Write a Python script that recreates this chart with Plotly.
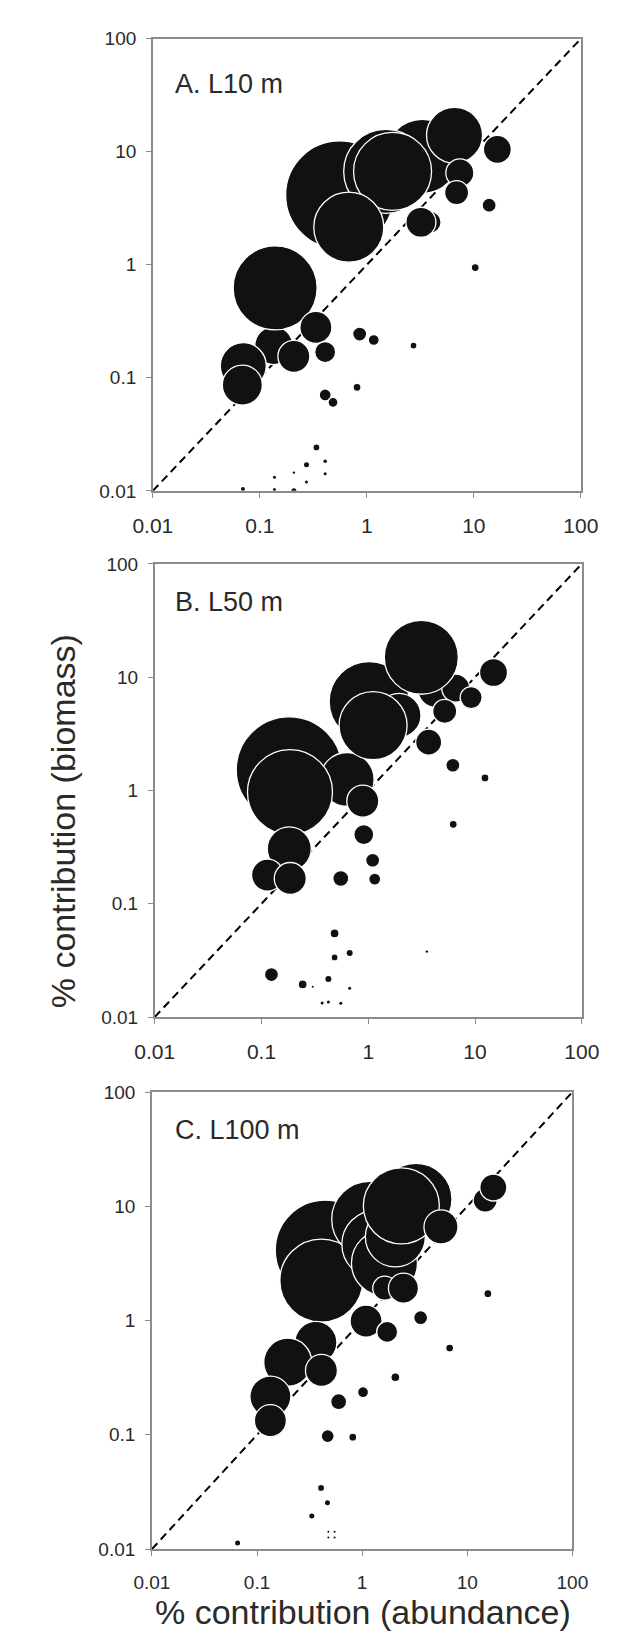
import plotly.graph_objects as go

# ---------------- data ----------------
# Panel A. L10 m  (drawing order back -> front)
a_abund = [0.557, 3.3, 1.50, 1.74, 6.6, 7.4, 6.9, 16.6, 13.9, 10.3, 3.9, 3.2, 0.678,
           0.135, 0.139, 0.334, 0.408, 0.208, 0.070, 0.0686, 0.857, 1.16, 2.73, 0.408,
           0.483, 0.81, 0.338, 0.273, 0.408, 0.408, 0.273, 0.208, 0.208, 0.137, 0.137, 0.0695]
a_biom = [4.15, 9.1, 6.7, 6.7, 14.0, 6.5, 4.35, 10.5, 3.37, 0.945, 2.38, 2.38, 2.15,
          0.193, 0.624, 0.279, 0.169, 0.155, 0.128, 0.0863, 0.244, 0.216, 0.193, 0.0706,
          0.0607, 0.0824, 0.0242, 0.017, 0.0183, 0.0142, 0.012, 0.0145, 0.0100, 0.0132, 0.0103, 0.0104]
a_weight = [54, 37, 42, 39, 28, 14, 12, 14, 7, 4, 11, 15, 35,
            19, 42, 16, 10.5, 16, 23, 20, 7, 5.5, 3.5, 6,
            5, 4, 3.5, 2.5, 1.8, 1.5, 1.5, 1.2, 2.5, 1.5, 1.5, 2]

# Panel B. L50 m
b_abund = [0.182, 0.634, 0.185, 0.889, 0.182, 0.114, 0.186, 1.02, 1.94, 1.11, 4.3, 6.6,
           9.2, 5.2, 3.14, 14.9, 3.68, 6.2, 12.4, 6.25, 0.908, 1.10, 1.15, 0.553, 0.484,
           0.484, 0.67, 3.54, 0.124, 0.243, 0.302, 0.423, 0.67, 0.37, 0.423, 0.553]
b_biom = [1.52, 1.25, 0.966, 0.805, 0.305, 0.179, 0.167, 6.1, 4.6, 3.74, 7.8, 8.0,
          6.6, 5.0, 15.0, 11.0, 2.67, 1.67, 1.29, 0.502, 0.408, 0.242, 0.165, 0.167, 0.0547,
          0.0336, 0.0367, 0.0378, 0.0237, 0.0194, 0.0185, 0.0217, 0.0179, 0.0133, 0.0136, 0.0132]
b_weight = [53, 27, 42.5, 16, 22, 16, 16, 40, 22, 34, 18, 14,
            11, 12, 37, 14, 13, 7, 4, 4, 10, 7, 6, 8, 4.5,
            3.5, 3, 1.2, 7, 4.5, 1, 3, 1.5, 1.5, 1.5, 1.5]

# Panel C. L100 m
c_abund = [0.446, 0.409, 3.25, 1.18, 1.35, 1.63, 2.07, 2.36, 5.62, 1.64, 2.47, 1.09,
           1.73, 0.363, 0.196, 0.41, 0.134, 0.134, 14.8, 17.7, 15.7, 6.8, 3.6, 2.07,
           1.02, 0.598, 0.47, 0.815, 0.407, 0.468, 0.332, 0.0653, 0.477, 0.547, 0.477, 0.547]
c_biom = [4.13, 2.24, 11.5, 7.7, 4.65, 3.19, 5.4, 10.1, 6.6, 1.92, 1.92, 0.99,
          0.796, 0.644, 0.432, 0.366, 0.216, 0.133, 11.3, 14.6, 1.72, 0.575, 1.06, 0.319,
          0.236, 0.195, 0.0973, 0.0953, 0.0343, 0.0255, 0.0195, 0.0113, 0.0142, 0.0142, 0.0126, 0.0126]
c_weight = [50, 41.5, 36, 38, 34, 33, 30, 38, 17, 12, 15, 16,
            10.5, 21, 24, 16, 20.5, 16, 12, 13.5, 4, 4, 7, 4.5,
            5.5, 8, 6.5, 4, 3.5, 2.5, 2.5, 2.5, 1, 1, 1, 1]

panel_labels = ["A. L10 m", "B. L50 m", "C. L100 m"]
tick_vals = [0.01, 0.1, 1, 10, 100]
tick_text = ["0.01", "0.1", "1", "10", "100"]
x_title = "% contribution (abundance)"
y_title = "% contribution (biomass)"

# ---------------- figure ----------------
W, H = 619, 1636
FONT = "Liberation Sans, Arial, sans-serif"
TXT = "#2a2a2a"
AXC = "#8c8c8c"

# pixel boxes of the three plot areas: (left, right, top, bottom)
boxes = [(133, 589, 21, 479), (135, 590, 553, 1012), (132, 580, 1088, 1551)]
xtick_font = [21, 21, 19]

fig = go.Figure()
panels = [(a_abund, a_biom, a_weight), (b_abund, b_biom, b_weight), (c_abund, c_biom, c_weight)]

for i, (xs, ys, ws) in enumerate(panels):
    sfx = "" if i == 0 else str(i + 1)
    # 1:1 reference line
    fig.add_trace(go.Scatter(x=[0.01, 100], y=[0.01, 100], mode="lines",
                             line=dict(color="black", width=2, dash="8px,5px"),
                             xaxis="x" + sfx, yaxis="y" + sfx, hoverinfo="skip",
                             showlegend=False))
    fig.add_trace(go.Scatter(
        x=xs, y=ys, mode="markers",
        marker=dict(size=[2 * w for w in ws], sizemode="diameter", color="#111111",
                    opacity=1,
                    line=dict(color="white", width=[1.3 if w > 3 else 0 for w in ws])),
        xaxis="x" + sfx, yaxis="y" + sfx, showlegend=False))

    l, r, t, b = boxes[i]
    common = dict(type="log", range=[-2, 2], tickvals=tick_vals, ticktext=tick_text,
                  showgrid=False, zeroline=False, showline=True, linecolor=AXC,
                  linewidth=1.5, mirror=True, ticks="outside", ticklen=5,
                  tickcolor=AXC, tickwidth=1)
    fig.layout["xaxis" + sfx] = dict(common, domain=[l / W, r / W],
                                     anchor="y" + sfx,
                                     tickfont=dict(family=FONT, size=xtick_font[i], color=TXT),
                                     ticklabelstandoff=10)
    fig.layout["yaxis" + sfx] = dict(common, domain=[1 - b / H, 1 - t / H],
                                     anchor="x" + sfx,
                                     tickfont=dict(family=FONT, size=19, color=TXT),
                                     ticklabelstandoff=6)

annotations = []
label_pos = [(155, 67), (155, 592), (155, 1126)]
for txt, (px, py) in zip(panel_labels, label_pos):
    annotations.append(dict(text=txt, x=px / W, y=1 - py / H, xref="paper", yref="paper",
                            xanchor="left", yanchor="middle", showarrow=False,
                            font=dict(family=FONT, size=27, color=TXT)))
annotations.append(dict(text=y_title, x=37 / W, y=1 - 814 / H, xref="paper", yref="paper",
                        xanchor="center", yanchor="middle", textangle=-90, showarrow=False,
                        font=dict(family=FONT, size=34, color=TXT)))
annotations.append(dict(text=x_title, x=357 / W, y=1 - 1615 / H, xref="paper", yref="paper",
                        xanchor="center", yanchor="middle", showarrow=False,
                        font=dict(family=FONT, size=34, color=TXT)))

fig.update_layout(width=W, height=H, margin=dict(l=0, r=0, t=0, b=0),
                  paper_bgcolor="white", plot_bgcolor="white",
                  annotations=annotations, showlegend=False)

fig.write_html("out.html")
